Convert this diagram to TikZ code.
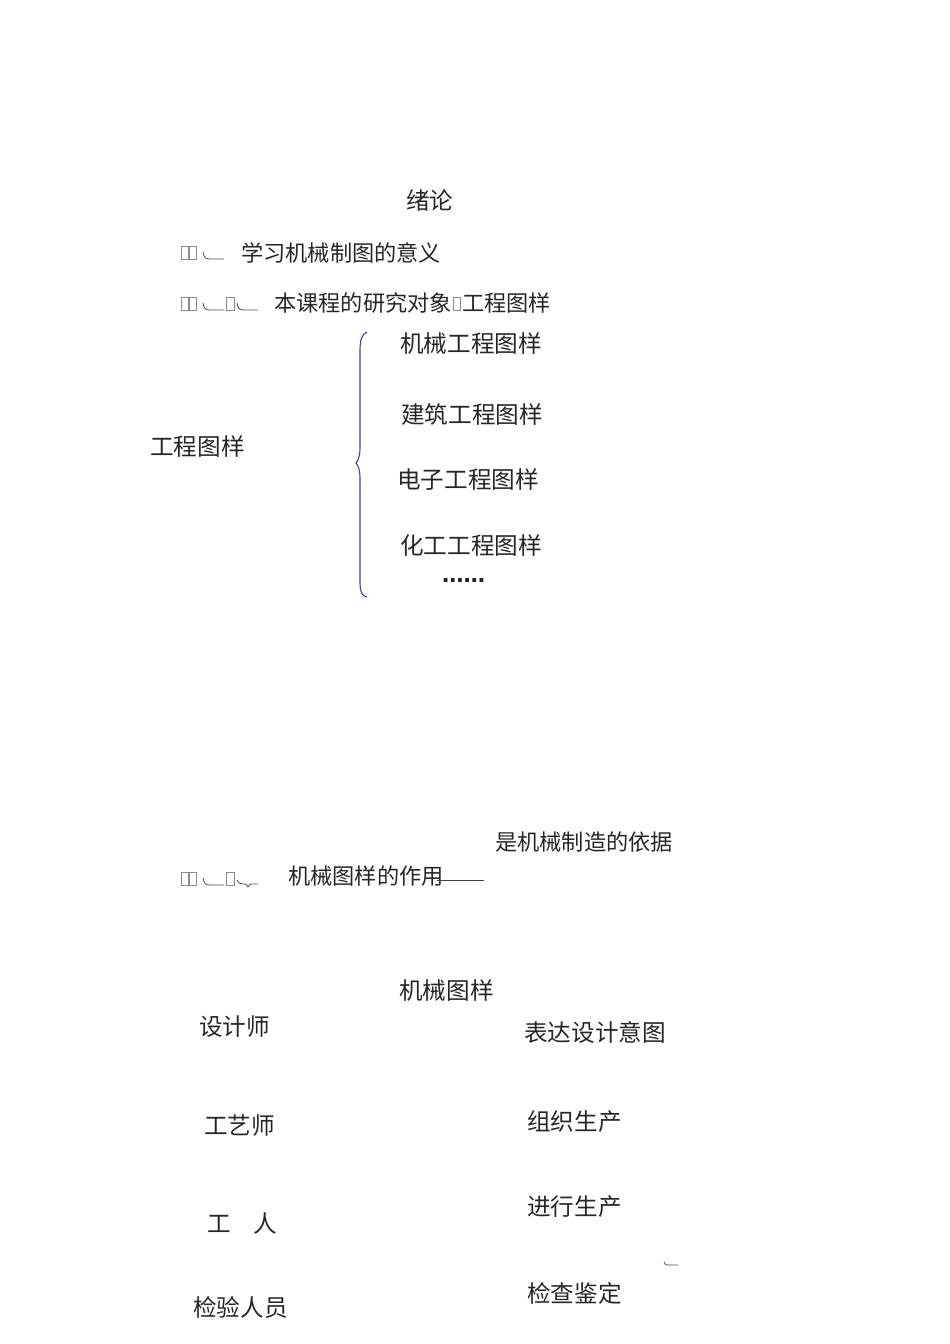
\documentclass[tikz,border=0pt]{standalone}
\usepackage{fontspec}
\newfontfamily\cjk{Noto Sans CJK SC}
\newfontfamily\dotsfont{DejaVu Sans}
\begin{document}
\begin{tikzpicture}[x=1pt,y=-1pt,
  txt/.style={anchor=west,inner sep=0pt,font=\cjk\fontsize{22.2}{22.2}\selectfont,text=black!85},
  big/.style={txt,font=\cjk\fontsize{23.6}{23.6}\selectfont},
  miss/.style={draw=black!45,line width=0.6pt},
  curl/.style={draw=black!70,line width=0.8pt},
  bracecol/.style={draw={rgb,255:red,60;green,60;blue,170},line width=1.1pt}]
\useasboundingbox (0,0) rectangle (950,1344);
% title
\node[big] (title) at (406,200) {绪论};
% line 1
\draw[miss] (181,246) rectangle (188,259);
\draw[miss] (189,246) rectangle (196,259);
\draw[curl] (203,252) .. controls (204,258) and (206,259) .. (210,259) -- (224,259);
\node[txt] (l1) at (241,253) {学习机械制图的意义};
% line 2
\draw[miss] (181,297) rectangle (188,310);
\draw[miss] (189,297) rectangle (196,310);
\draw[curl] (203,303) .. controls (204,309) and (206,310) .. (210,310) -- (224,310);
\draw[miss] (226,297) rectangle (234,310);
\draw[curl] (237,303) .. controls (238,309) and (240,310) .. (244,310) -- (258,310);
\node[txt] (l2a) at (274,303) {本课程的研究对象};
\draw[miss] (453,297) rectangle (460,310);
\node[txt] (l2b) at (462,303) {工程图样};
% brace section
\node[big] (gc) at (150,446) {工程图样};
\draw[bracecol] (367,332) .. controls (362,334) and (360,340) .. (360,350)
  -- (360,448) .. controls (360,456) and (358,461) .. (356,463)
  .. controls (358,465) and (360,470) .. (360,478)
  -- (360,582) .. controls (360,592) and (362,596) .. (367,597);
\node[big] (b1) at (400,343) {机械工程图样};
\node[big] (b2) at (401,414) {建筑工程图样};
\node[big] (b3) at (397,479) {电子工程图样};
\node[big] (b4) at (400,545) {化工工程图样};
\node[txt] (b5) at (442,580) {\dotsfont\fontsize{21.5}{21.5}\selectfont\bfseries ……};
% line 3
\node[txt] (yiju) at (495,842) {是机械制造的依据};
\draw[miss] (181,872) rectangle (188,885);
\draw[miss] (189,872) rectangle (196,885);
\draw[curl] (203,878) .. controls (204,884) and (206,885) .. (210,885) -- (224,885);
\draw[miss] (226,872) rectangle (234,885);
\draw[curl] (237,880) .. controls (238,883) and (240,884) .. (243,884) -- (245,884)
  .. controls (246,884) and (247,885) .. (248,887)
  .. controls (249,885) and (250,884) .. (251,884) -- (258,884);
\node[txt] (l3) at (288,876) {机械图样的作用};
\coordinate (dashend) at (484,880);
\draw[draw=black!75,line width=1pt] (437,880) -- (dashend);
% bottom section
\node[big] (jx) at (399,990) {机械图样};
\node[big] (s1) at (199,1027) {设计师};
\node[big] (r1) at (524,1032) {表达设计意图};
\node[big] (s2) at (204,1126) {工艺师};
\node[big] (r2) at (527,1122) {组织生产};
\node[big] (s3a) at (207,1224) {工};
\node[big] (s3b) at (253,1224) {人};
\node[big] (r3) at (527,1207) {进行生产};
\draw[curl] (664,1262) .. controls (665,1265) and (666,1265) .. (669,1265) -- (678,1265);
\node[big] (r4) at (527,1293) {检查鉴定};
\node[big] (s4) at (193,1307) {检验人员};
\end{tikzpicture}
\end{document}
